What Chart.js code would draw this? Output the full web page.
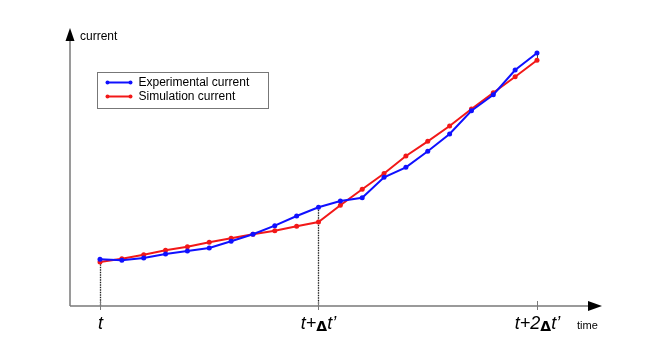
<!DOCTYPE html>
<html>
<head>
<meta charset="utf-8">
<script src="https://cdn.jsdelivr.net/npm/chart.js@4"></script>
<style>
  html, body { margin: 0; padding: 0; background: #fff; }
  #wrap { width: 670px; height: 348px; }
</style>
</head>
<body>
<div id="wrap"><canvas id="currentChart" width="670" height="348"></canvas></div>
<script>
// time steps (10 steps per delta t')
var steps = [0, 1, 2, 3, 4, 5, 6, 7, 8, 9, 10, 11, 12, 13, 14, 15, 16, 17, 18, 19, 20];
var experimental = [4.67, 4.57, 4.8, 5.2, 5.5, 5.8, 6.47, 7.17, 8.03, 9.0, 9.87,
                    10.5, 10.83, 12.87, 13.87, 15.48, 17.2, 19.53, 21.13, 23.6, 25.3];
var simulation = [4.4, 4.73, 5.13, 5.57, 5.93, 6.37, 6.77, 7.17, 7.53, 7.97, 8.4,
                  10.07, 11.67, 13.25, 15.0, 16.47, 18.0, 19.7, 21.33, 22.93, 24.57];
var tickValues = [0, 10, 20];
var tickLabels = ["t", "t+\u0394t\u2019", "t+2\u0394t\u2019"];
var seriesNames = ["Experimental current", "Simulation current"];

function toPoints(vals) {
    return steps.map(function(s, i) { return {x: s, y: vals[i]}; });
}

var axisColor = '#7a7a7a';
var italicFont = 'italic 18px "Liberation Sans", Arial, sans-serif';
var deltaFont = 'bold 14px "DejaVu Sans", sans-serif';

// tick label with an upright, smaller delta like the Symbol font
function drawTickLabel(c, text, cx, by) {
    var parts = text.split('\u0394');
    var pieces = [];
    parts.forEach(function(p, i) {
        if (i > 0) pieces.push({t: '\u0394', f: deltaFont});
        if (p) pieces.push({t: p, f: italicFont});
    });
    var total = 0;
    pieces.forEach(function(p) { c.font = p.f; p.w = c.measureText(p.t).width; total += p.w; });
    var x = cx - total / 2;
    c.textAlign = 'left';
    pieces.forEach(function(p) {
        c.font = p.f;
        c.fillText(p.t, x, by + (p.t === '\u0394' ? 2 : 0));
        x += p.w;
    });
}

var drawAxes = {
    id: 'drawAxes',
    beforeDatasetsDraw: function(chart) {
        var c = chart.ctx, a = chart.chartArea;
        var xs = chart.scales.x, ys = chart.scales.y;
        var y0 = ys.getPixelForValue(0);
        c.save();

        // dotted drop lines at t and t+dt'
        c.strokeStyle = '#222';
        c.lineWidth = 1.3;
        c.setLineDash([1.5, 1]);
        [0, 1].forEach(function(k) {
            var i = steps.indexOf(tickValues[k]);
            var px = Math.round(xs.getPixelForValue(tickValues[k])) + 0.5;
            var top = Math.min(ys.getPixelForValue(experimental[i]), ys.getPixelForValue(simulation[i]));
            c.beginPath();
            c.moveTo(px, top);
            c.lineTo(px, y0);
            c.stroke();
        });
        c.setLineDash([]);
        // small joiner between the last two points
        var last = steps.length - 1;
        var pxl = Math.round(xs.getPixelForValue(steps[last])) + 0.5;
        c.strokeStyle = '#444';
        c.lineWidth = 1;
        c.beginPath();
        c.moveTo(pxl, ys.getPixelForValue(experimental[last]));
        c.lineTo(pxl, ys.getPixelForValue(simulation[last]));
        c.stroke();

        // axes
        c.strokeStyle = axisColor;
        c.lineWidth = 1.5;
        c.beginPath();
        c.moveTo(a.left, y0);
        c.lineTo(a.right - 10, y0);
        c.moveTo(a.left, y0);
        c.lineTo(a.left, a.top + 6);
        c.stroke();

        // arrow heads
        c.fillStyle = '#000';
        c.beginPath();
        c.moveTo(a.right, y0);
        c.lineTo(a.right - 14, y0 - 5);
        c.lineTo(a.right - 14, y0 + 5);
        c.closePath();
        c.fill();
        c.beginPath();
        c.moveTo(a.left, a.top);
        c.lineTo(a.left - 4.5, a.top + 13);
        c.lineTo(a.left + 4.5, a.top + 13);
        c.closePath();
        c.fill();

        // ticks and labels
        c.strokeStyle = axisColor;
        c.lineWidth = 1;
        c.fillStyle = '#000';
        c.textBaseline = 'alphabetic';
        tickValues.forEach(function(v, k) {
            var px = Math.round(xs.getPixelForValue(v)) + 0.5;
            c.beginPath();
            c.moveTo(px, y0 - 5);
            c.lineTo(px, y0 + 4);
            c.stroke();
            drawTickLabel(c, tickLabels[k], px, y0 + 23);
        });

        // axis titles
        c.font = '12px "Liberation Sans", Arial, sans-serif';
        c.textAlign = 'left';
        c.textBaseline = 'middle';
        c.fillText('current', a.left + 10, a.top + 9);
        c.font = '11px "Liberation Sans Narrow", "Liberation Sans", Arial, sans-serif';
        c.fillText('time', a.right - 25, y0 + 20);

        // legend box
        var lx = 97.5, ly = 72.5, lw = 171, lh = 36;
        c.strokeStyle = '#777';
        c.lineWidth = 1;
        c.strokeRect(lx, ly, lw, lh);
        c.font = '12px "Liberation Sans", Arial, sans-serif';
        chart.data.datasets.forEach(function(ds, k) {
            var yy = ly + 10 + k * 14;
            c.strokeStyle = ds.borderColor;
            c.fillStyle = ds.borderColor;
            c.lineWidth = 2;
            c.beginPath();
            c.moveTo(lx + 10, yy);
            c.lineTo(lx + 33, yy);
            c.stroke();
            [lx + 10, lx + 33].forEach(function(px) {
                c.beginPath();
                c.arc(px, yy, 2, 0, Math.PI * 2);
                c.fill();
            });
            c.fillStyle = '#000';
            c.fillText(ds.label, lx + 41, yy);
        });
        c.restore();
    }
};

var ctx = document.getElementById('currentChart').getContext('2d');
var chart = new Chart(ctx, {
    type: 'scatter',
    data: {
        datasets: [{
            label: seriesNames[0],
            data: toPoints(experimental),
            showLine: true,
            borderColor: '#1010ff',
            backgroundColor: '#1010ff',
            borderWidth: 2,
            pointRadius: 2.5,
            pointBorderWidth: 0
        }, {
            label: seriesNames[1],
            data: toPoints(simulation),
            showLine: true,
            borderColor: '#f21818',
            backgroundColor: '#f21818',
            borderWidth: 2,
            pointRadius: 2.5,
            pointBorderWidth: 0
        }]
    },
    options: {
        responsive: false,
        animation: false,
        layout: { padding: { left: 70, right: 68, top: 28, bottom: 42 } },
        scales: {
            x: { type: 'linear', display: false, min: -1.373, max: 22.975 },
            y: { type: 'linear', display: false, min: 0, max: 27.8 }
        },
        plugins: {
            legend: { display: false },
            tooltip: { enabled: false }
        }
    },
    plugins: [drawAxes]
});
</script>
</body>
</html>
